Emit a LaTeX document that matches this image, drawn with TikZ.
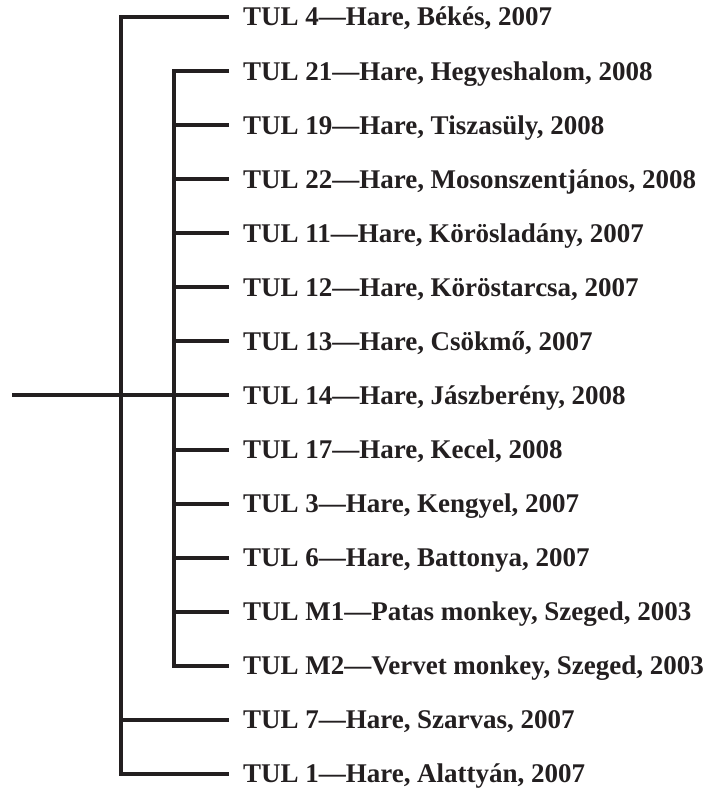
\documentclass[tikz,border=0pt]{standalone}
\usepackage{fontspec}
\setmainfont{Liberation Serif}
\usepackage{xcolor}
\usepackage{tikz}
\usetikzlibrary{positioning}

\definecolor{inkgray}{HTML}{231F20}
\tikzset{leaf/.style={anchor=west, inner xsep=12pt, inner ysep=0pt, text height=18pt, text depth=0pt, font=\fontsize{27pt}{30pt}\bfseries, text=inkgray}}

\begin{document}
\begin{tikzpicture}[x=1pt, y=1pt, line width=4pt, draw=inkgray, node distance=54.07pt]
\useasboundingbox (0,0) rectangle (707,-789);
\node (t4) [leaf] at (229,-17) {TUL 4—Hare, Békés, 2007};
\node (t21) [leaf, below=of t4.west, anchor=west] {TUL 21—Hare, Hegyeshalom, 2008};
\node (t19) [leaf, below=of t21.west, anchor=west] {TUL 19—Hare, Tiszasüly, 2008};
\node (t22) [leaf, below=of t19.west, anchor=west] {TUL 22—Hare, Mosonszentjános, 2008};
\node (t11) [leaf, below=of t22.west, anchor=west] {TUL 11—Hare, Körösladány, 2007};
\node (t12) [leaf, below=of t11.west, anchor=west] {TUL 12—Hare, Köröstarcsa, 2007};
\node (t13) [leaf, below=of t12.west, anchor=west] {TUL 13—Hare, Csökmő, 2007};
\node (t14) [leaf, below=of t13.west, anchor=west] {TUL 14—Hare, Jászberény, 2008};
\node (t17) [leaf, below=of t14.west, anchor=west] {TUL 17—Hare, Kecel, 2008};
\node (t3) [leaf, below=of t17.west, anchor=west] {TUL 3—Hare, Kengyel, 2007};
\node (t6) [leaf, below=of t3.west, anchor=west] {TUL 6—Hare, Battonya, 2007};
\node (tm1) [leaf, below=of t6.west, anchor=west] {TUL M1—Patas monkey, Szeged, 2003};
\node (tm2) [leaf, below=of tm1.west, anchor=west] {TUL M2—Vervet monkey, Szeged, 2003};
\node (t7) [leaf, below=of tm2.west, anchor=west] {TUL 7—Hare, Szarvas, 2007};
\node (t1) [leaf, below=of t7.west, anchor=west] {TUL 1—Hare, Alattyán, 2007};

\coordinate (root) at (12,0 |- t14.west);
\coordinate (outer) at (121,0 |- t14.west);
\coordinate (inner) at (174,0 |- t14.west);

\draw (root) -- (t14.west);
\draw (t4.west) -| (outer) |- (t1.west);
\draw (outer) |- (t7.west);
\draw (t21.west) -| (inner) |- (tm2.west);
\draw (inner) |- (t19.west);
\draw (inner) |- (t22.west);
\draw (inner) |- (t11.west);
\draw (inner) |- (t12.west);
\draw (inner) |- (t13.west);
\draw (inner) |- (t17.west);
\draw (inner) |- (t3.west);
\draw (inner) |- (t6.west);
\draw (inner) |- (tm1.west);
\end{tikzpicture}
\end{document}
